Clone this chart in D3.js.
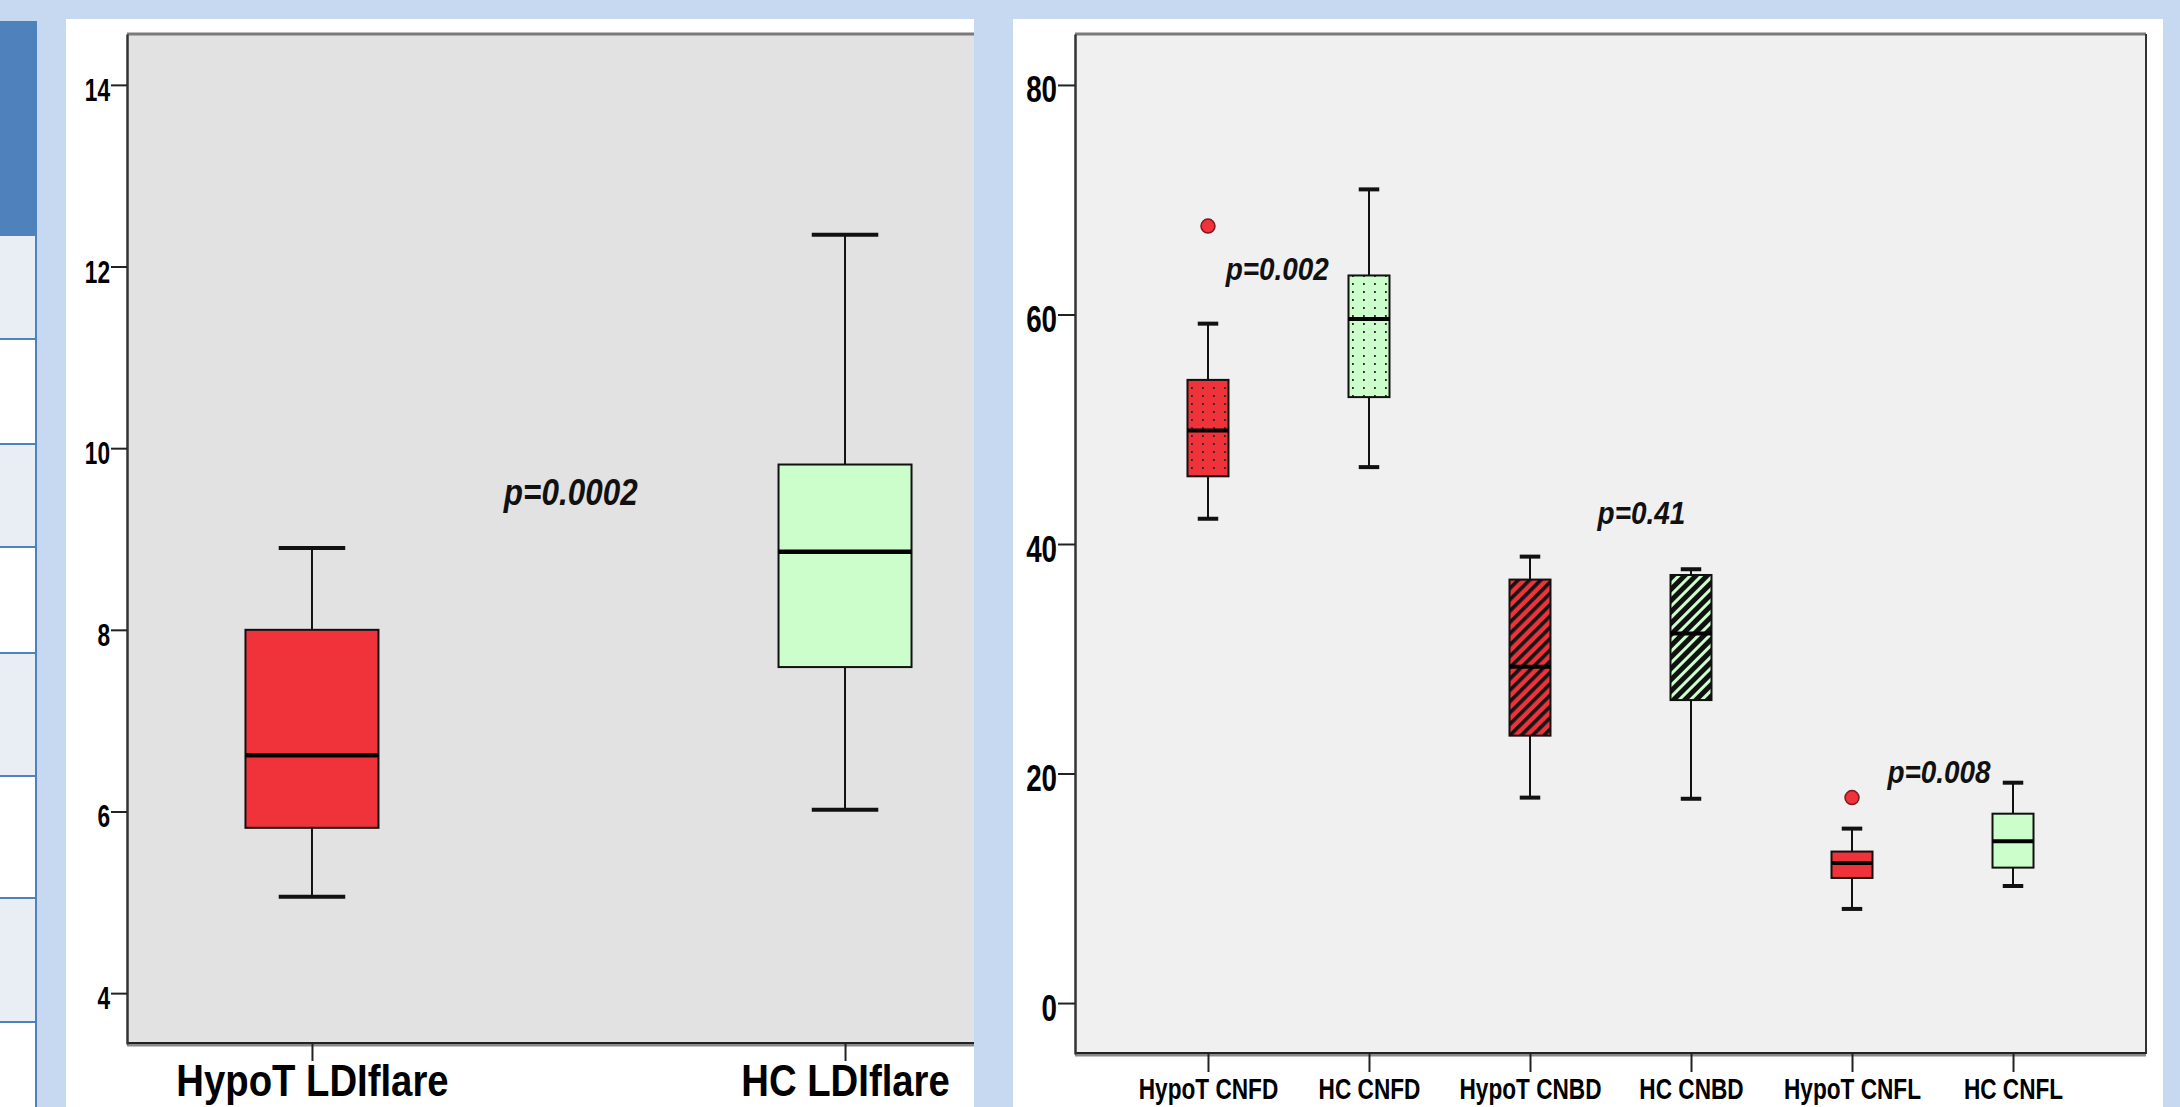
<!DOCTYPE html>
<html>
<head>
<meta charset="utf-8">
<script src="https://cdn.jsdelivr.net/npm/d3@7"></script>
<style>
  body { margin: 0; background: #c6d9f1; overflow: hidden; }
  text { font-family: "Liberation Sans", Arial, sans-serif; }
</style>
</head>
<body>
<div id="chart"></div>
<script>
const width = 2180;
const height = 1107;

// left chart: LDIflare
const leftCategories = ["HypoT LDIflare", "HC LDIflare"];
const leftMin = [5.06, 6.02];
const leftQ1 = [5.82, 7.59];
const leftMedian = [6.62, 8.86];
const leftQ3 = [8.0, 9.82];
const leftMax = [8.9, 12.35];
const leftTicks = [4, 6, 8, 10, 12, 14];
const leftPValues = [{ text: "p=0.0002", at: 0.36, value: 9.37 }];

// right chart: corneal nerve measures
const rightCategories = ["HypoT CNFD", "HC CNFD", "HypoT CNBD", "HC CNBD", "HypoT CNFL", "HC CNFL"];
const rightMin = [42.2, 46.7, 17.9, 17.8, 8.2, 10.2];
const rightQ1 = [45.9, 52.8, 23.3, 26.4, 10.9, 11.8];
const rightMedian = [49.9, 59.6, 29.3, 32.2, 12.2, 14.1];
const rightQ3 = [54.3, 63.4, 36.9, 37.3, 13.2, 16.5];
const rightMax = [59.2, 70.9, 38.9, 37.8, 15.2, 19.2];
const rightOutliers = [[67.7], [], [], [], [17.9], []];
const rightTicks = [0, 20, 40, 60, 80];
const rightPValues = [
  { text: "p=0.002", at: 0.11, value: 63.0 },
  { text: "p=0.41", at: 2.42, value: 41.7 },
  { text: "p=0.008", at: 4.22, value: 19.15 },
];

const red = "#f0323a";
const green = "#ccfecc";

const svg = d3
  .select("#chart")
  .append("svg")
  .attr("width", width)
  .attr("height", height);

const defs = svg.append("defs");

function dotPattern(id, fill) {
  const p = defs.append("pattern").attr("id", id)
    .attr("patternUnits", "userSpaceOnUse").attr("width", 11).attr("height", 8);
  p.append("rect").attr("width", 11).attr("height", 8).attr("fill", fill);
  p.append("rect").attr("x", 5).attr("y", 3).attr("width", 1.8).attr("height", 2)
    .attr("fill", "#2a2a2a");
}
function hatchPattern(id, fill, lineW) {
  const p = defs.append("pattern").attr("id", id)
    .attr("patternUnits", "userSpaceOnUse").attr("width", 8).attr("height", 8)
    .attr("patternTransform", "rotate(45)");
  p.append("rect").attr("width", 8).attr("height", 8).attr("fill", fill);
  p.append("rect").attr("width", lineW).attr("height", 8).attr("fill", "#111");
}
dotPattern("dots-red", red);
dotPattern("dots-green", green);
hatchPattern("hatch-red", red, 3.6);
hatchPattern("hatch-green", green, 5);

function fillFor(cat) {
  const grp = cat.startsWith("HypoT") ? "red" : "green";
  const base = grp == "red" ? red : green;
  if (cat.includes("CNFD")) return `url(#dots-${grp})`;
  if (cat.includes("CNBD")) return `url(#hatch-${grp})`;
  return base;
}

// squeeze text horizontally (the original uses a narrow font)
function condense(sel, k) {
  sel.each(function () {
    const w = this.getComputedTextLength();
    d3.select(this).attr("textLength", w * k).attr("lengthAdjust", "spacingAndGlyphs");
  });
}

// ---- slide background: cut-off table on the far left ----
const strip = svg.append("g");
const rowEdges = [236, 339, 444, 547, 653, 776, 898, 1022, 1107];
strip.append("rect").attr("x", 0).attr("y", 21).attr("width", 37).attr("height", 215).attr("fill", "#4f81bd");
d3.pairs(rowEdges).forEach(([a, b], i) => {
  strip.append("rect").attr("x", 0).attr("y", a).attr("width", 36).attr("height", b - a)
    .attr("fill", i % 2 == 0 ? "#e9edf4" : "#ffffff");
});
rowEdges.slice(1, -1).forEach((e) => {
  strip.append("line").attr("x1", 0).attr("x2", 37).attr("y1", e).attr("y2", e)
    .attr("stroke", "#4f81bd").attr("stroke-width", 2);
});
strip.append("line").attr("x1", 36).attr("x2", 36).attr("y1", 236).attr("y2", height)
  .attr("stroke", "#4f81bd").attr("stroke-width", 2);

// ---- generic panel ----
function drawPanel(cfg) {
  const { panel, plot } = cfg;
  const g = svg.append("g");
  g.append("rect").attr("x", panel[0]).attr("y", panel[1])
    .attr("width", panel[2] - panel[0]).attr("height", height - panel[1]).attr("fill", "#fff");

  const x = d3.scalePoint().domain(cfg.categories).range([plot.left, plot.xEnd]).padding(cfg.padding);
  const y = d3.scaleLinear().domain(cfg.domain).range([plot.bottom, plot.top]);

  g.append("rect").attr("x", plot.left).attr("y", plot.top)
    .attr("width", plot.right - plot.left).attr("height", plot.bottom - plot.top)
    .attr("fill", cfg.bg);

  // frame
  g.append("line").attr("x1", plot.left).attr("x2", plot.right).attr("y1", plot.top).attr("y2", plot.top)
    .attr("stroke", "#7a7a7a").attr("stroke-width", 3);
  if (cfg.rightBorder) {
    g.append("line").attr("x1", plot.right).attr("x2", plot.right).attr("y1", plot.top).attr("y2", plot.bottom)
      .attr("stroke", "#333").attr("stroke-width", 2);
  }
  g.append("line").attr("x1", plot.left).attr("x2", plot.right).attr("y1", plot.bottom + 1).attr("y2", plot.bottom + 1)
    .attr("stroke", "#8a8a8a").attr("stroke-width", 3);
  g.append("line").attr("x1", plot.left).attr("x2", plot.right).attr("y1", plot.bottom - 1).attr("y2", plot.bottom - 1)
    .attr("stroke", "#222").attr("stroke-width", 2);

  // y axis
  const yAxis = g.append("g").attr("transform", `translate(${plot.left},0)`)
    .call(d3.axisLeft(y).tickValues(cfg.ticks).tickSize(cfg.yTick).tickSizeOuter(0).tickPadding(1));
  yAxis.select(".domain").attr("stroke", "#333").attr("stroke-width", 2.5);
  yAxis.selectAll(".tick line").attr("stroke", "#222").attr("stroke-width", 2);
  yAxis.selectAll(".tick text")
    .attr("fill", "#000").attr("font-size", cfg.yFont).attr("font-weight", "bold")
    .attr("dy", cfg.yDy).call(condense, cfg.yK);

  // x axis
  const xAxis = g.append("g").attr("transform", `translate(0,${plot.bottom})`)
    .call(d3.axisBottom(x).tickSize(cfg.xTick).tickSizeOuter(0));
  xAxis.select(".domain").remove();
  xAxis.selectAll(".tick line").attr("stroke", "#222").attr("stroke-width", 2);
  xAxis.selectAll(".tick text")
    .attr("fill", "#000").attr("font-size", cfg.xFont).attr("font-weight", "bold")
    .attr("y", cfg.xBase).attr("dy", 0).call(condense, cfg.xK);

  // boxes
  const rows = cfg.categories.map((c, i) => ({
    cat: c, min: cfg.min[i], q1: cfg.q1[i], median: cfg.median[i], q3: cfg.q3[i], max: cfg.max[i],
    outliers: cfg.outliers ? cfg.outliers[i] : [],
  }));
  const bw = cfg.boxWidth;
  const box = g.selectAll(".box").data(rows).join("g").classed("box", true)
    .attr("transform", (d) => `translate(${x(d.cat)},0)`);

  box.append("line").attr("y1", (d) => y(d.max)).attr("y2", (d) => y(d.q3))
    .attr("stroke", "#111").attr("stroke-width", 2);
  box.append("line").attr("y1", (d) => y(d.q1)).attr("y2", (d) => y(d.min))
    .attr("stroke", "#111").attr("stroke-width", 2);
  box.append("line").attr("x1", -bw / 4).attr("x2", bw / 4)
    .attr("y1", (d) => y(d.max)).attr("y2", (d) => y(d.max))
    .attr("stroke", "#111").attr("stroke-width", 4);
  box.append("line").attr("x1", -bw / 4).attr("x2", bw / 4)
    .attr("y1", (d) => y(d.min)).attr("y2", (d) => y(d.min))
    .attr("stroke", "#111").attr("stroke-width", 4);
  box.append("rect").attr("x", -bw / 2).attr("width", bw)
    .attr("y", (d) => y(d.q3)).attr("height", (d) => y(d.q1) - y(d.q3))
    .attr("fill", (d) => fillFor(d.cat)).attr("stroke", "#111").attr("stroke-width", 2);
  box.append("line").attr("x1", -bw / 2).attr("x2", bw / 2)
    .attr("y1", (d) => y(d.median)).attr("y2", (d) => y(d.median))
    .attr("stroke", "#000").attr("stroke-width", cfg.medianWidth);
  box.selectAll(".outlier").data((d) => d.outliers).join("circle").classed("outlier", true)
    .attr("cy", (v) => y(v)).attr("r", 7)
    .attr("fill", red).attr("stroke", "#7a1a1a").attr("stroke-width", 1.5);

  // p-values
  const step = x.step();
  g.selectAll(".pval").data(cfg.pValues).join("text").classed("pval", true)
    .attr("x", (d) => x(cfg.categories[0]) + d.at * step)
    .attr("y", (d) => y(d.value))
    .attr("font-size", cfg.pFont).attr("font-weight", "bold").attr("font-style", "italic")
    .attr("fill", "#111")
    .text((d) => d.text)
    .call(condense, cfg.pK);
}

drawPanel({
  panel: [66, 19, 974],
  plot: { left: 127, right: 974, xEnd: 1030, top: 34, bottom: 1044 },
  categories: leftCategories,
  padding: 0.347,
  domain: [3.44, 14.56],
  ticks: leftTicks,
  bg: "#e2e2e2",
  rightBorder: false,
  min: leftMin, q1: leftQ1, median: leftMedian, q3: leftQ3, max: leftMax,
  boxWidth: 133,
  medianWidth: 4.5,
  yTick: 16, yFont: 31, yDy: "0.5em", yK: 0.73,
  xTick: 17, xFont: 44, xBase: 52, xK: 0.87,
  pValues: leftPValues, pFont: 37, pK: 0.85,
});

drawPanel({
  panel: [1013, 19, 2163],
  plot: { left: 1075, right: 2146, xEnd: 2146, top: 34, bottom: 1054 },
  categories: rightCategories,
  padding: 0.826,
  domain: [-4.44, 84.44],
  ticks: rightTicks,
  bg: "#f0f0f0",
  rightBorder: true,
  min: rightMin, q1: rightQ1, median: rightMedian, q3: rightQ3, max: rightMax,
  outliers: rightOutliers,
  boxWidth: 41,
  medianWidth: 4,
  yTick: 17, yFont: 37, yDy: "0.46em", yK: 0.75,
  xTick: 18, xFont: 29, xBase: 45, xK: 0.78,
  pValues: rightPValues, pFont: 31, pK: 0.9,
});
</script>
</body>
</html>
